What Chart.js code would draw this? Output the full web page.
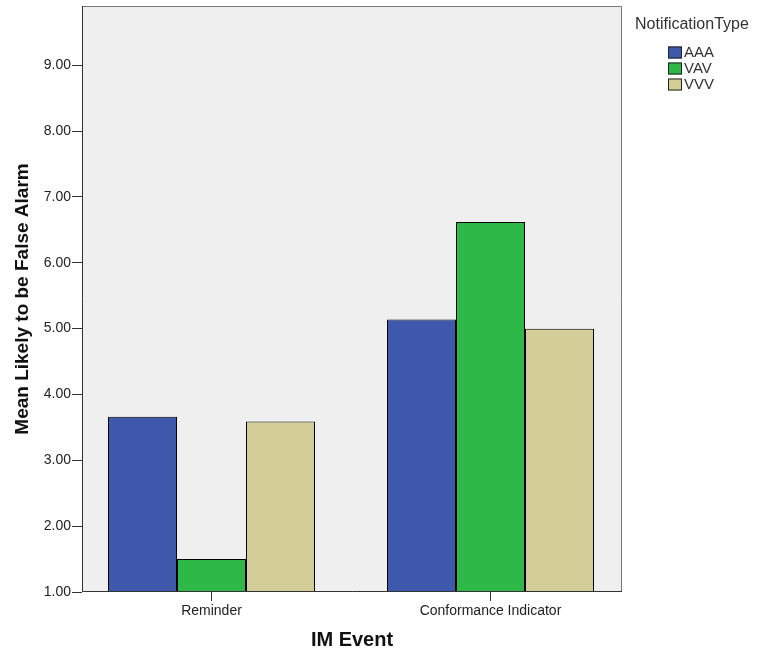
<!DOCTYPE html>
<html>
<head>
<meta charset="utf-8">
<script src="https://cdn.jsdelivr.net/npm/chart.js@4/dist/chart.umd.min.js"></script>
<style>
html,body{margin:0;padding:0;background:#fff;}
#wrap{width:757px;height:658px;position:relative;}
</style>
</head>
<body>
<div id="wrap"><canvas id="c" width="757" height="658"></canvas></div>
<script>
const categories = ["Reminder", "Conformance Indicator"];
const seriesNames = ["AAA", "VAV", "VVV"];
const aaaValues = [3.66, 5.14];
const vavValues = [1.50, 6.62];
const vvvValues = [3.59, 5.00];
const seriesColors = ["#3e58ab", "#2eb848", "#d3ce97"];
const yTickValues = [1, 2, 3, 4, 5, 6, 7, 8, 9];
const yMin = 1, yMax = 9.9;
const legendTitle = "NotificationType";
const xTitle = "IM Event";
const yTitle = "Mean Likely to be False Alarm";

const FONT = "'Liberation Sans', Arial, sans-serif";

const plotBg = {
  id: 'plotBg',
  beforeDatasetsDraw(chart) {
    const {ctx, chartArea: a} = chart;
    ctx.save();
    ctx.fillStyle = '#efefef';
    ctx.fillRect(a.left, a.top, a.right - a.left, a.bottom - a.top);
    ctx.restore();
  },
  afterDatasetsDraw(chart) {
    const {ctx, chartArea: a} = chart;
    ctx.save();
    ctx.lineWidth = 1;
    ctx.strokeStyle = '#777777';
    ctx.beginPath();
    ctx.moveTo(a.left, a.top + 0.5); ctx.lineTo(a.right - 0.5, a.top + 0.5); ctx.lineTo(a.right - 0.5, a.bottom);
    ctx.stroke();
    ctx.strokeStyle = '#333333';
    ctx.beginPath();
    ctx.moveTo(a.left + 0.5, a.top); ctx.lineTo(a.left + 0.5, a.bottom - 0.5); ctx.lineTo(a.right, a.bottom - 0.5);
    ctx.stroke();
    ctx.restore();
  },
  afterDraw(chart) {
    const ctx = chart.ctx;
    ctx.save();
    ctx.font = '16px ' + FONT;
    ctx.fillStyle = '#333333';
    ctx.textBaseline = 'middle';
    ctx.textAlign = 'left';
    ctx.fillText(legendTitle, 635, 25);
    ctx.font = '15px ' + FONT;
    chart.data.datasets.forEach((ds, i) => {
      const y = 52.5 + i * 16;
      ctx.fillStyle = ds.backgroundColor;
      ctx.fillRect(668, y - 6, 14, 12);
      ctx.strokeStyle = '#222';
      ctx.lineWidth = 1;
      ctx.strokeRect(668.5, y - 5.5, 13, 11);
      ctx.fillStyle = '#333333';
      ctx.fillText(ds.label, 684, y + 0.5);
    });
    ctx.restore();
  }
};

const dataLists = [aaaValues, vavValues, vvvValues];

new Chart(document.getElementById('c'), {
  type: 'bar',
  data: {
    labels: categories,
    datasets: seriesNames.map((n, i) => ({
      label: n,
      data: dataLists[i],
      backgroundColor: seriesColors[i],
      borderColor: '#000000',
      borderWidth: 1,
      borderSkipped: false,
      categoryPercentage: 207 / 279,
      barPercentage: 1.0
    }))
  },
  options: {
    responsive: false,
    animation: false,
    devicePixelRatio: 1,
    layout: { padding: { top: 6, right: 135, left: 0, bottom: 0 } },
    plugins: { legend: { display: false }, tooltip: { enabled: false } },
    scales: {
      x: {
        grid: { offset: false, drawOnChartArea: false, drawTicks: true, tickLength: 9, tickColor: '#333', color: '#333' },
        border: { display: false },
        ticks: { font: { family: FONT, size: 14 }, color: '#222', padding: 2, maxRotation: 0 },
        title: { display: true, text: xTitle, font: { family: FONT, size: 20, weight: 'bold' }, color: '#111', padding: { top: 2, bottom: 6 } },
        afterFit(scale) { scale.height = 66; scale.paddingLeft = 0; scale.paddingRight = 0; },
        afterUpdate(scale) {
          // SPSS-style group placement: groups slightly off-centre within the plot
          scale._startValue = -129.5 / 279;
          scale._valueRange = 540 / 279;
        }
      },
      y: {
        min: yMin, max: yMax,
        afterBuildTicks(scale) { scale.ticks = yTickValues.map(v => ({ value: v })); },
        grid: { drawOnChartArea: false, drawTicks: true, tickLength: 10, tickColor: '#333', color: '#333' },
        border: { display: false },
        ticks: { font: { family: FONT, size: 14 }, color: '#222', padding: 1, callback: v => Number(v).toFixed(2) },
        title: { display: true, text: yTitle, font: { family: FONT, size: 19, weight: 'bold' }, color: '#111', padding: { top: 11, bottom: 4 } },
        afterFit(scale) { scale.width = 82; scale.paddingTop = 0; scale.paddingBottom = 0; }
      }
    }
  },
  plugins: [plotBg]
});
</script>
</body>
</html>
